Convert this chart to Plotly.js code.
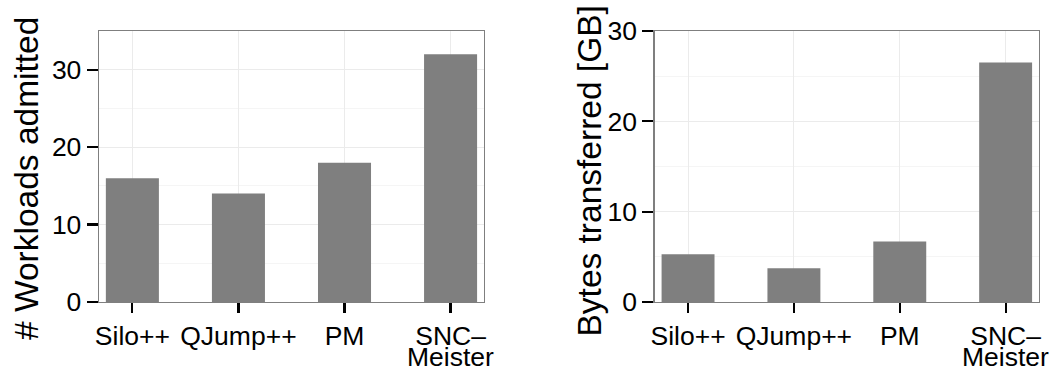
<!DOCTYPE html>
<html>
<head>
<meta charset="utf-8">
<script src="https://cdn.plot.ly/plotly-3.0.1.min.js"></script>
<style>html,body{margin:0;padding:0;background:#fff;}#chart{width:1063px;height:373px;}</style>
</head>
<body>
<div id="chart"></div>
<script>
// ---- data ----
const categories = ["Silo++", "QJump++", "PM", "SNC–Meister"];
const tickLabels = ["Silo++", "QJump++", "PM", "SNC–<br>Meister"];
const workloadsAdmitted = [16, 14, 18, 32];
const bytesTransferredGB = [5.3, 3.75, 6.7, 26.5];
const leftTitle = "# Workloads admitted";
const rightTitle = "Bytes transferred [GB]";
const leftTicks = [0, 10, 20, 30];
const rightTicks = [0, 10, 20, 30];

// ---- styling ----
const FONT = '"Liberation Sans", Arial, Helvetica, sans-serif';
const TICK_SIZE = 26.5;
const TITLE_SIZE = 33.5;
const BAR_COLOR = '#7f7f7f';

const firstLines = tickLabels.map(t => t.split('<br>')[0]);
const secondLines = tickLabels.map(t => t.split('<br>')[1] || '');

const traces = [
  {type: 'bar', x: categories, y: workloadsAdmitted, xaxis: 'x', yaxis: 'y',
   width: 0.5, marker: {color: BAR_COLOR, line: {width: 0}}, hoverinfo: 'x+y'},
  {type: 'bar', x: categories, y: bytesTransferredGB, xaxis: 'x2', yaxis: 'y2',
   width: 0.5, marker: {color: BAR_COLOR, line: {width: 0}}, hoverinfo: 'x+y'}
];

function xAxis(domain, anchor) {
  return {
    domain: domain, anchor: anchor, type: 'category',
    categoryorder: 'array', categoryarray: categories,
    tickvals: categories, ticktext: firstLines,
    range: [-0.315, 3.315],
    showgrid: true, gridcolor: '#ebebeb', gridwidth: 1,
    showline: true, mirror: true, linecolor: '#7f7f7f', linewidth: 1.3,
    ticks: 'outside', ticklen: 10, tickwidth: 2.2, tickcolor: '#000',
    tickfont: {family: FONT, size: TICK_SIZE, color: '#000'},
    zeroline: false, fixedrange: true
  };
}
function yAxis(domain, anchor, range, tickvals) {
  return {
    domain: domain, anchor: anchor, range: range,
    tickmode: 'array', tickvals: tickvals,
    showgrid: true, gridcolor: '#ebebeb', gridwidth: 1,
    minor: {showgrid: true, gridcolor: '#f5f5f5', gridwidth: 1, dtick: 5, tick0: 0, ticks: ''},
    showline: true, mirror: true, linecolor: '#7f7f7f', linewidth: 1.3,
    ticks: 'outside', ticklen: 11, tickwidth: 2.2, tickcolor: '#000',
    tickfont: {family: FONT, size: TICK_SIZE, color: '#000'},
    zeroline: false, fixedrange: true
  };
}

const yDom = [0.1903, 0.9169];
const annotations = [];
['x', 'x2'].forEach(xr => {
  categories.forEach((c, i) => {
    if (secondLines[i]) {
      annotations.push({
        xref: xr, yref: 'paper', x: c, y: 0, yanchor: 'bottom', xanchor: 'center',
        text: secondLines[i], showarrow: false, borderpad: 0,
        font: {family: FONT, size: TICK_SIZE, color: '#000'}
      });
    }
  });
});
// y-axis titles
annotations.push({
  xref: 'paper', yref: 'paper', x: 0.0249, y: 0.5214, xanchor: 'center', yanchor: 'middle',
  text: leftTitle, textangle: -90, showarrow: false, borderpad: 0,
  font: {family: FONT, size: TITLE_SIZE, color: '#000'}
});
annotations.push({
  xref: 'paper', yref: 'paper', x: 0.5546, y: 0.5416, xanchor: 'center', yanchor: 'middle',
  text: rightTitle, textangle: -90, showarrow: false, borderpad: 0,
  font: {family: FONT, size: TITLE_SIZE, color: '#000'}
});

const layout = {
  width: 1063, height: 373,
  margin: {l: 0, r: 0, t: 0, b: 0},
  paper_bgcolor: '#fff', plot_bgcolor: '#fff',
  showlegend: false, bargap: 0.5,
  font: {family: FONT, color: '#000'},
  xaxis: xAxis([0.0931, 0.4553], 'y'),
  yaxis: yAxis(yDom, 'x', [0, 35], leftTicks),
  xaxis2: xAxis([0.6159, 0.9774], 'y2'),
  yaxis2: yAxis(yDom, 'x2', [0, 30], rightTicks),
  annotations: annotations
};

Plotly.newPlot('chart', traces, layout, {displayModeBar: false, staticPlot: true});
</script>
</body>
</html>
